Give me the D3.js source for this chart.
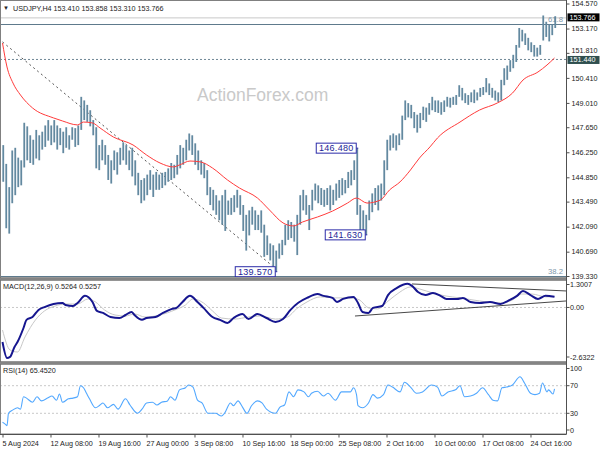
<!DOCTYPE html>
<html><head><meta charset="utf-8">
<script src="https://cdn.jsdelivr.net/npm/d3@7"></script>
<style>body{margin:0;background:#fff;} svg{display:block;font-family:"Liberation Sans",Arial,sans-serif;}</style>
</head><body><svg id="c" width="600" height="450"></svg>
<script>
// ---------- DATA ----------
const symbolTitle = "USDJPY,H4  153.410 153.858 153.310 153.766";
const macdTitle = "MACD(12,26,9) 0.5264 0.5257";
const rsiTitle = "RSI(14) 65.4520";
const watermark = "ActionForex.com";
// H4 bars, aggregated in pairs (index k -> bars 2k,2k+1)
const barHigh = [146.65,145.6,144.3,146.35,146.5,145.95,145.8,147.9,147.7,147.2,
146.95,147.5,147.2,147.4,147.75,148.05,147.75,148.05,147.75,147.6,
147.4,147.65,147.2,147.65,147.6,147.75,149.35,149.15,148.9,148.6,
148.05,147.65,146.65,146.95,146.65,146.1,145.8,146.35,146.25,146.5,
146.8,146.65,146.35,146.5,145.8,145.1,144.7,144.8,145.0,145.25,
145.0,145.15,145.0,145.1,145.15,145.35,145.65,145.55,146.1,146.65,
146.5,146.95,147.3,147.2,146.75,146.35,145.8,145.65,145.25,144.3,
144.15,143.85,143.55,143.85,144.15,143.55,143.7,143.85,144.15,143.85,
143.3,142.75,143.0,143.2,143.0,142.75,143.0,142.2,141.6,141.15,
141.05,140.75,141.15,141.35,142.2,142.45,142.35,142.2,142.75,143.85,
144.15,143.85,143.3,144.15,144.5,144.4,144.25,144.15,144.25,144.4,
144.15,144.5,144.7,144.8,144.7,145.15,145.25,145.8,146.48,143.3,
143.0,142.75,143.55,143.95,144.25,144.4,144.5,145.8,146.95,147.2,
147.3,147.2,147.3,148.3,149.15,149.0,148.9,148.5,148.35,148.45,
148.8,148.75,149.0,149.35,149.15,149.15,149.05,149.15,149.35,149.3,
149.35,149.45,150.0,149.85,149.55,149.45,149.6,149.75,149.6,149.85,
149.9,150.4,150.1,149.85,149.7,149.6,150.3,150.95,151.1,151.4,
151.7,152.25,153.2,153.1,152.9,152.65,152.4,152.25,152.1,152.25,
153.9,153.55,153.4,153.4,153.86];
const barLow = [144.6,142.0,141.7,143.4,143.85,144.3,144.4,145.4,145.8,145.65,
145.55,145.9,145.8,146.4,146.55,146.9,146.65,146.8,146.4,146.65,
146.2,146.5,146.4,146.95,146.55,146.65,147.5,148.05,147.95,147.7,
147.2,145.35,145.25,145.8,145.55,144.7,144.5,145.25,145.0,145.55,
145.8,145.55,145.25,144.9,144.4,143.85,143.4,143.55,143.85,144.15,
143.75,144.15,144.15,144.25,144.4,144.6,144.7,144.8,145.0,145.35,
145.55,145.8,146.35,146.1,145.55,145.25,145.0,144.8,143.85,143.3,
143.0,142.75,142.45,142.2,141.85,142.75,142.75,142.9,143.15,142.75,
141.85,140.75,141.6,142.2,141.9,141.9,141.75,140.4,140.5,140.2,
139.8,139.57,140.3,140.5,141.05,141.35,141.45,141.25,140.5,142.2,
143.0,142.75,141.9,143.0,143.55,143.4,143.3,143.2,143.3,143.0,
143.3,143.55,143.7,143.85,143.95,144.25,144.4,144.7,142.75,141.9,
141.75,141.63,142.45,142.9,143.3,143.0,143.55,143.85,145.25,146.35,
146.5,146.35,146.65,146.95,148.05,148.2,148.15,147.6,147.35,147.6,
148.05,147.95,148.35,148.6,148.5,148.45,148.35,148.5,148.8,148.75,
148.9,148.9,149.35,149.15,149.0,148.9,149.05,149.0,149.15,149.35,
149.45,149.6,149.45,149.3,149.15,149.05,149.15,150.0,150.3,150.75,
150.95,151.3,152.1,152.45,152.25,151.95,151.85,151.6,151.6,151.7,
152.5,152.7,152.45,152.8,153.2];
// moving average (red)
const maIdx = [0,3,7,12,20,34,40,50,54,60,65,74,87,96,105,114,118,125,132,140,150,158,170,178,187,194,200,210,220,230,236,243,252,258,265,272,278,285,290,305,318,330,340,347,357,363,368];
const maVal = [152.36,151.02,150.12,149.45,148.73,148.17,148.0,147.78,147.94,147.89,147.61,147.10,146.66,146.10,145.65,145.43,145.54,145.76,145.71,145.37,144.70,144.25,143.69,143.02,142.30,142.13,142.35,142.63,142.96,143.41,143.69,143.41,143.58,144.14,144.59,145.26,145.93,146.55,147.05,147.94,148.61,149.01,149.56,150.29,150.74,151.13,151.52];
// MACD main
const macdIdx = [0,3,5,8,10,14,16,20,24,28,34,40,42,47,50,55,60,63,67,72,78,82,86,88,93,96,102,107,113,116,120,125,130,134,140,145,150,154,160,164,170,176,182,187,192,197,198,203,210,214,220,223,227,234,237,240,244,247,253,257,263,270,273,277,282,287,292,296,303,307,312,318,325,332,337,343,347,352,357,362,368];
const macdVal = [-1.70,-2.48,-2.43,-1.94,-1.70,-1.01,-0.61,-0.47,-0.12,0.02,0.17,0.22,0.12,0.07,0.22,0.57,0.27,-0.17,-0.27,-0.47,-0.52,-0.37,-0.22,-0.37,-0.61,-0.52,-0.47,-0.27,-0.07,-0.02,0.27,0.57,0.27,-0.02,-0.47,-0.61,-0.76,-0.52,-0.32,-0.57,-0.32,-0.52,-0.71,-0.57,-0.12,0.22,0.27,0.47,0.66,0.57,0.47,0.27,0.42,0.52,0.22,-0.22,-0.27,-0.02,0.07,0.61,0.96,1.16,1.06,0.76,0.61,0.71,0.57,0.42,0.42,0.47,0.27,0.22,0.27,0.17,0.32,0.57,0.81,0.61,0.42,0.57,0.5264];
// MACD signal
const sigIdx = [0,5,10,15,22,28,35,42,50,57,62,68,75,82,88,95,105,115,122,127,134,140,146,155,164,172,182,190,196,203,212,222,232,238,244,250,258,265,272,278,287,295,305,318,332,340,346,353,362,368];
const sigVal = [-1.11,-2.09,-2.19,-1.45,-0.61,-0.17,0.07,0.17,0.17,0.42,0.27,-0.12,-0.37,-0.42,-0.32,-0.47,-0.37,-0.12,0.12,0.42,0.22,-0.17,-0.52,-0.57,-0.47,-0.42,-0.57,-0.47,-0.07,0.27,0.52,0.47,0.47,0.37,-0.02,-0.07,0.37,0.76,1.01,0.91,0.71,0.57,0.47,0.32,0.22,0.37,0.66,0.66,0.52,0.5257];
const macdTrendUpper = [[273,1.155],[376,0.81]];
const macdTrendLower = [[235,-0.42],[376,0.32]];
// RSI(14)
const rsiIdx = [0,2,3,4,7,10,12,14,16,20,23,26,30,33,36,38,40,44,47,50,52,54,56,58,62,65,67,70,74,77,82,85,90,93,96,100,103,106,110,112,115,118,122,124,127,130,133,137,142,146,148,152,154,157,160,163,166,170,173,176,182,185,188,191,194,197,201,204,206,210,214,217,222,226,232,234,236,237,240,244,247,250,254,257,260,265,268,272,276,280,286,290,293,297,302,305,308,312,316,320,324,327,330,333,336,340,345,348,352,355,358,360,363,364,367,368];
const rsiVal = [17,14,12,30,35,38,36,54,52,46,54,48,52,55,49,58,46,51,52,54,70,67,59,51,38,42,45,38,43,36,51,42,30,36,45,46,42,46,48,54,49,64,67,71,68,49,45,30,30,26,30,45,41,48,39,30,41,48,45,36,30,39,42,61,54,64,61,54,59,62,55,59,49,61,61,67,57,41,38,45,57,52,57,71,68,61,75,68,59,61,71,68,55,61,64,70,54,55,59,67,57,49,48,67,68,71,83,74,59,57,59,74,61,64,58,65.45];
// axis labels
const priceTicks = [154.570,153.170,151.810,150.410,149.010,147.650,146.250,144.850,143.490,142.090,140.690,139.330];
const macdTicks = [1.3007,0,-2.6322];
const macdTickLabels = ["1.3007","0.00","-2.6322"];
const rsiTicks = [100,70,30,0];
const xTickIdx = [0,32,64,96,128,160,192,224,256,288,320,352];
const xTickLabels = ["5 Aug 2024","12 Aug 08:00","19 Aug 16:00","27 Aug 00:00","3 Sep 08:00","10 Sep 16:00","18 Sep 00:00","25 Sep 08:00","2 Oct 16:00","10 Oct 00:00","17 Oct 08:00","24 Oct 16:00"];
// annotations
const pivots = [{label:"146.480",idx:236.5,price:146.48},{label:"141.630",idx:242.5,price:141.63},{label:"139.570",idx:182.5,price:139.57}];
const trendLine = [[0,152.42],[180,139.89]];
const fibLevels = [{label:"61.8",price:153.42},{label:"38.2",price:139.33}];
const lastPrice = 153.766;
const supportLevel = 151.44;

// ---------- SCALES ----------
const svg = d3.select("#c");
const X0=2.5, XR=566;
const x = d3.scaleLinear().domain([0,375.67]).range([X0,XR]);
const yP = d3.scaleLinear().domain([139.33,154.57]).range([276,3.5]);
const yM = d3.scaleLinear().domain([-2.6322,1.3007]).range([361,281]);
const yR = d3.scaleLinear().domain([0,100]).range([434,365]);
const FS = 7.2;

const defs = svg.append("defs");
function clip(id,y0,y1){defs.append("clipPath").attr("id",id).append("rect").attr("x",1).attr("y",y0).attr("width",XR-1).attr("height",y1-y0);}
clip("cm",1,277); clip("cmacd",281,361); clip("crsi",365,434);

// watermark
svg.append("text").attr("x",197).attr("y",101).attr("font-size",17.5).attr("fill","#c9c9c9").text(watermark);

// ---------- MAIN PANEL ----------
const gm = svg.append("g").attr("clip-path","url(#cm)");
gm.append("line").attr("x1",0).attr("x2",XR).attr("y1",yP(lastPrice)).attr("y2",yP(lastPrice)).attr("stroke","#c8c8c8");
fibLevels.forEach(f=>{
  gm.append("line").attr("x1",0).attr("x2",XR).attr("y1",Math.round(yP(f.price))+0.5).attr("y2",Math.round(yP(f.price))+0.5).attr("stroke","#5e7a8c");
  gm.append("text").attr("x",XR-3).attr("y",yP(f.price)-2).attr("text-anchor","end").attr("font-size",FS+0.5).attr("fill","#7f98ab").text(f.label);
});
gm.append("line").attr("x1",0).attr("x2",XR).attr("y1",yP(supportLevel)).attr("y2",yP(supportLevel)).attr("stroke","#6f8796").attr("stroke-dasharray","2,2");
gm.append("line").attr("x1",x(trendLine[0][0])).attr("y1",yP(trendLine[0][1])).attr("x2",x(trendLine[1][0])).attr("y2",yP(trendLine[1][1])).attr("stroke","#555").attr("stroke-dasharray","2,3");

// bars
gm.selectAll("rect.bar").data(barHigh).join("rect").attr("class","bar")
  .attr("x",(d,k)=>x(2*k+0.5)-0.9).attr("width",1.8)
  .attr("y",d=>yP(d)).attr("height",(d,k)=>Math.max(1,yP(barLow[k])-yP(d)))
  .attr("fill","#6389a0");
// MA
gm.append("path").datum(maIdx.map((d,i)=>[d,maVal[i]]))
  .attr("d",d3.line().x(d=>x(d[0])).y(d=>yP(d[1])).curve(d3.curveMonotoneX))
  .attr("fill","none").attr("stroke","#ff3b3b").attr("stroke-width",1);

// pivot boxes
pivots.forEach(p=>{
  const bx=x(p.idx)-1, py=yP(p.price);
  gm.append("line").attr("x1",bx).attr("x2",bx+2).attr("y1",py).attr("y2",py).attr("stroke","#2b2ba8");
  gm.append("rect").attr("x",bx-40).attr("y",py-5).attr("width",40).attr("height",10).attr("fill","#fff").attr("stroke","#2b2ba8");
  gm.append("text").attr("x",bx-20).attr("y",py+3.3).attr("text-anchor","middle").attr("font-size",9).attr("letter-spacing",0.3).attr("fill","#1e1e96").text(p.label);
});

// ---------- MACD ----------
const gmacd = svg.append("g").attr("clip-path","url(#cmacd)");
gmacd.append("line").attr("x1",0).attr("x2",XR).attr("y1",yM(0)).attr("y2",yM(0)).attr("stroke","#c8c8c8").attr("stroke-dasharray","2,2");
gmacd.append("path").datum(sigIdx.map((d,i)=>[d,sigVal[i]]))
  .attr("d",d3.line().x(d=>x(d[0])).y(d=>yM(d[1])).curve(d3.curveMonotoneX))
  .attr("fill","none").attr("stroke","#c8c8c8").attr("stroke-width",1);
gmacd.append("path").datum(macdIdx.map((d,i)=>[d,macdVal[i]]))
  .attr("d",d3.line().x(d=>x(d[0])).y(d=>yM(d[1])).curve(d3.curveMonotoneX))
  .attr("fill","none").attr("stroke","#16168f").attr("stroke-width",2);
[macdTrendUpper,macdTrendLower].forEach(t=>{
  gmacd.append("line").attr("x1",x(t[0][0])).attr("y1",yM(t[0][1])).attr("x2",x(t[1][0])).attr("y2",yM(t[1][1])).attr("stroke","#333").attr("stroke-width",0.9);
});

// ---------- RSI ----------
const grsi = svg.append("g").attr("clip-path","url(#crsi)");
[70,30].forEach(v=>grsi.append("line").attr("x1",0).attr("x2",XR).attr("y1",yR(v)).attr("y2",yR(v)).attr("stroke","#c8c8c8").attr("stroke-dasharray","2,2"));
grsi.append("path").datum(rsiIdx.map((d,i)=>[d,rsiVal[i]]))
  .attr("d",d3.line().x(d=>x(d[0])).y(d=>yR(d[1])).curve(d3.curveMonotoneX))
  .attr("fill","none").attr("stroke","#52a8ff").attr("stroke-width",1.1);

// ---------- FRAME ----------
svg.append("rect").attr("x",0.5).attr("y",0.5).attr("width",XR).attr("height",433.5).attr("fill","none").attr("stroke","#808080");
function sep(y){
  svg.append("rect").attr("x",0).attr("y",y).attr("width",XR+0.5).attr("height",3).attr("fill","#b8b8b8");
  svg.append("line").attr("x1",0).attr("x2",XR+0.5).attr("y1",y+0.5).attr("y2",y+0.5).attr("stroke","#505050");
  svg.append("line").attr("x1",0).attr("x2",XR+0.5).attr("y1",y+2.5).attr("y2",y+2.5).attr("stroke","#505050");
}
sep(277.5); sep(361.5);
svg.append("line").attr("x1",XR+0.5).attr("x2",XR+0.5).attr("y1",0).attr("y2",434).attr("stroke","#505050");
svg.append("line").attr("x1",0).attr("x2",XR+0.5).attr("y1",434.5).attr("y2",434.5).attr("stroke","#505050");

// ---------- AXES ----------
const ay = svg.append("g").attr("transform",`translate(${XR+0.5},0)`)
  .call(d3.axisRight(yP).tickValues(priceTicks).tickFormat(d3.format(".3f")).tickSize(3).tickPadding(2).tickSizeOuter(0));
ay.select(".domain").remove();
ay.selectAll("text").attr("font-size",FS).attr("font-family","Liberation Sans, Arial, sans-serif").attr("fill","#222").attr("dy","0.3em");
ay.selectAll("line").attr("stroke","#505050");
// label hidden behind the support box in the reference: nudge up so it stays readable
ay.selectAll(".tick").filter(d=>Math.abs(d-151.81)<1e-6).select("text").attr("dy","-0.05em");

function sideLabels(vals,labels,scale,top,bot){
  vals.forEach((v,i)=>{
    const yy=Math.min(Math.max(scale(v),top+3.5),bot-4);
    svg.append("line").attr("x1",XR+0.5).attr("x2",XR+3.5).attr("y1",yy).attr("y2",yy).attr("stroke","#505050");
    svg.append("text").attr("x",XR+4).attr("y",yy+2.5).attr("font-size",FS).attr("fill","#222").text(labels[i]);
  });
}
sideLabels(macdTicks,macdTickLabels,yM,281,361);
sideLabels(rsiTicks,rsiTicks.map(String),yR,365,434);

// price boxes
function priceBox(v,bg,fg,dy){
  const yy=yP(v)+dy;
  svg.append("rect").attr("x",XR+1.5).attr("y",yy-4).attr("width",32).attr("height",8).attr("fill",bg);
  svg.append("text").attr("x",XR+3.5).attr("y",yy+2.5).attr("font-size",FS).attr("fill",fg).text(v.toFixed(3));
}
priceBox(lastPrice,"#000","#fff",-0.5);
priceBox(supportLevel,"#2f4f4f","#fff",0.5);

const ax = svg.append("g").attr("transform","translate(0,434.5)")
  .call(d3.axisBottom(x).tickValues(xTickIdx).tickFormat((d,i)=>xTickLabels[i]).tickSize(3).tickPadding(3).tickSizeOuter(0));
ax.select(".domain").remove();
ax.selectAll("text").attr("font-size",FS).attr("font-family","Liberation Sans, Arial, sans-serif").attr("fill","#222").attr("text-anchor","start").attr("dx",-0.5);
ax.selectAll("line").attr("stroke","#505050");

// titles
svg.append("text").attr("x",3).attr("y",10).attr("font-size",6).attr("fill","#222").text("▼");
svg.append("text").attr("x",13).attr("y",10.5).attr("font-size",FS).attr("fill","#222").text(symbolTitle);
svg.append("text").attr("x",3).attr("y",288.5).attr("font-size",FS).attr("fill","#222").text(macdTitle);
svg.append("text").attr("x",3).attr("y",372.5).attr("font-size",FS).attr("fill","#222").text(rsiTitle);
</script></body></html>
